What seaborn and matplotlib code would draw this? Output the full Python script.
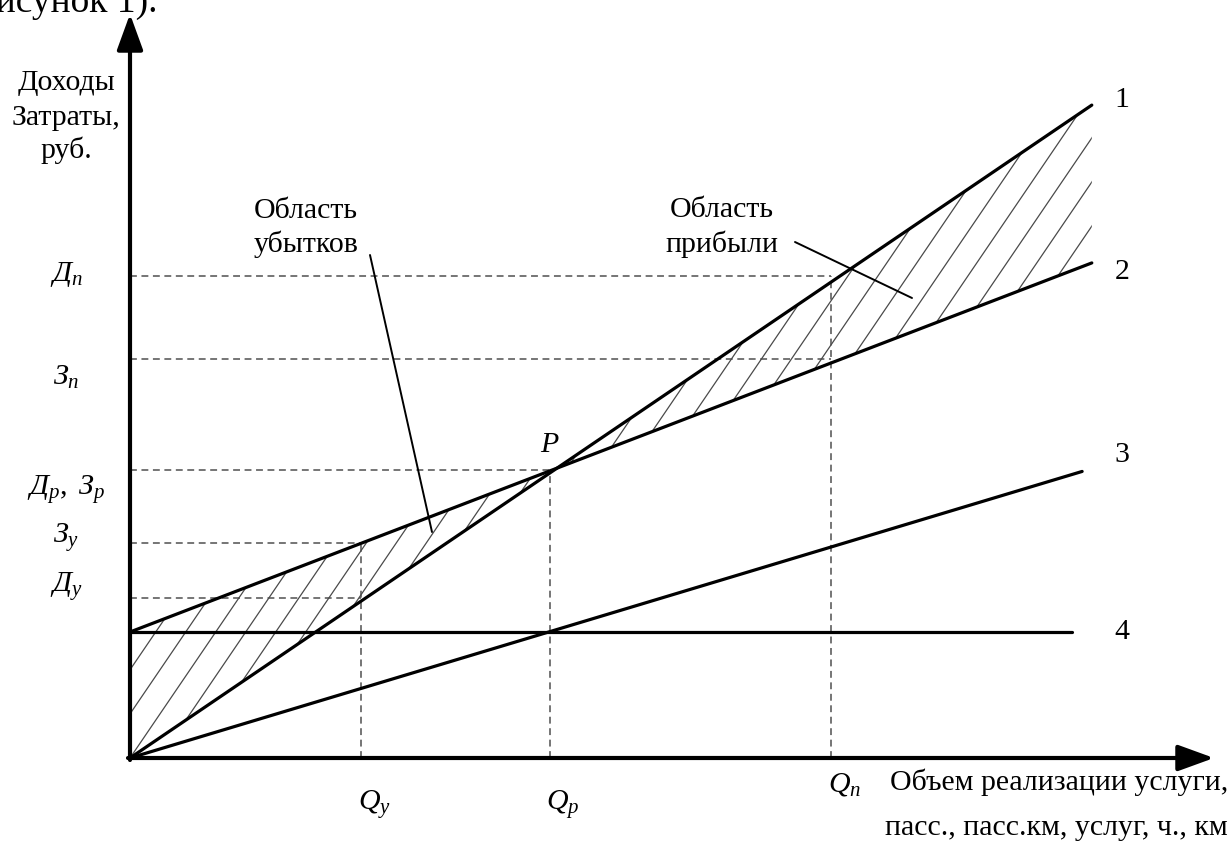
import matplotlib.pyplot as plt
import numpy as np
import pandas as pd
import seaborn as sns
from matplotlib.collections import LineCollection

# break-even chart, schematic units (x: volume, y: revenue / costs)
line_labels = ["1", "2", "3", "4"]  # revenue, total costs, variable costs, fixed costs
line_start_x = [0.0, 0.0, 0.0, 0.0]
line_start_y = [0.0, 4.375, 0.0, 4.375]
line_end_x = [22.9, 22.9, 22.67, 22.43]
line_end_y = [22.67, 17.19, 9.95, 4.375]

volume_labels = [r"$Q_y$", r"$Q_p$", r"$Q_n$"]
volume_values = [5.5, 10.0, 16.7]

level_labels = [r"$Д_n$", r"$З_n$", r"$Д_p,\ З_p$", r"$З_y$", r"$Д_y$"]
level_values = [16.74, 13.85, 10.0, 7.47, 5.56]
level_volumes = [16.7, 16.7, 10.0, 5.5, 5.5]

sns.set_theme(style="white")
plt.rcParams["font.family"] = ["Liberation Serif", "DejaVu Serif"]
plt.rcParams["mathtext.fontset"] = "custom"
plt.rcParams["mathtext.rm"] = "Liberation Serif"
plt.rcParams["mathtext.it"] = "Liberation Serif:italic"
plt.rcParams["mathtext.bf"] = "Liberation Serif:bold"
plt.rcParams["text.color"] = "black"

W, H = 1231, 848
X0, Y0 = 130, 758      # origin, pixels
SX, SY = 42.0, 28.8    # pixels per unit
FS = 21.5


def px(x, y):
    # pixel position -> data coords
    return (x - X0) / SX, (Y0 - y) / SY


fig = plt.figure(figsize=(W / 100, H / 100), dpi=100)
ax = fig.add_axes([0, 0, 1, 1])
ax.set_xlim(-X0 / SX, (W - X0) / SX)
ax.set_ylim(-(H - Y0) / SY, Y0 / SY)
ax.axis("off")

# main lines
lines = pd.DataFrame({
    "line": np.repeat(line_labels, 2),
    "x": np.column_stack([line_start_x, line_end_x]).ravel(),
    "y": np.column_stack([line_start_y, line_end_y]).ravel(),
})
sns.lineplot(data=lines, x="x", y="y", units="line", estimator=None, sort=False,
             color="black", lw=2.3, ax=ax, zorder=4)

# hatched loss / profit areas between revenue and total costs
xs = np.linspace(0, line_end_x[0], 200)
rev = np.interp(xs, [line_start_x[0], line_end_x[0]], [line_start_y[0], line_end_y[0]])
cost = np.interp(xs, [line_start_x[1], line_end_x[1]], [line_start_y[1], line_end_y[1]])
band = ax.fill_between(xs, rev, cost, facecolor="none", edgecolor="none")

slope = 1.47 * SX / SY
step = 30 / SX
segs = [[(c - 1, -slope), (c + 14, 14 * slope)] for c in np.arange(-30, 40) * step]
hatch = LineCollection(segs, colors="#4a4a4a", linewidths=0.9, zorder=2)
ax.add_collection(hatch)
hatch.set_clip_path(band.get_paths()[0], ax.transData)

# dashed guides
dash = dict(color="#505050", lw=1.1, dashes=(4.5, 3), zorder=1)
for lvl, vol in zip(level_values, level_volumes):
    ax.plot([0, vol], [lvl, lvl], **dash)
for vol in volume_values:
    top = max(l for l, v in zip(level_values, level_volumes) if v == vol)
    ax.plot([vol, vol], [0, top], **dash)

# axes with arrows
arrow = dict(arrowstyle="-|>,head_length=1.1,head_width=0.4", lw=3, color="black",
             shrinkA=0, shrinkB=0, mutation_scale=20)
ax.annotate("", xy=px(X0, 14), xytext=px(X0, Y0 + 2), arrowprops=arrow, zorder=5)
ax.annotate("", xy=px(1214, Y0), xytext=px(X0 - 2, Y0), arrowprops=arrow, zorder=5)

# y-axis title
for txt, base in zip(["Доходы", "Затраты,", "руб."], [90, 125, 158]):
    ax.text(*px(66, base), txt, ha="center", va="baseline", fontsize=FS)

# level labels
level_shift = [5, 26, 25, 0, -6]
for lab, lvl, sh in zip(level_labels, level_values, level_shift):
    x, _ = px(66, 0)
    ax.text(x, lvl - sh / SY, lab, ha="center", va="baseline", fontsize=FS)

# volume labels
q_base = [810, 810, 792]
for lab, vol, b in zip(volume_labels, volume_values, q_base):
    _, y = px(0, b)
    ax.text(vol + 13 / SX, y, lab, ha="center", va="baseline", fontsize=FS)

ax.text(*px(1228, 790), "Объем реализации услуги,", ha="right", va="baseline", fontsize=FS)
ax.text(*px(1228, 835), "пасс., пасс.км, услуг, ч., км", ha="right", va="baseline", fontsize=FS)

# line numbers
for lab, ypx in zip(line_labels, [100, 272, 455, 632]):
    ax.text(*px(1122, ypx), lab, ha="center", va="center", fontsize=FS)

# break-even point
ax.text(*px(550, 452), r"$P$", ha="center", va="baseline", fontsize=FS)

# area captions with leaders
for txt, (cx, b) in [("Область", (306, 218)), ("убытков", (306, 252)),
                     ("Область", (722, 217)), ("прибыли", (722, 252))]:
    ax.text(*px(cx, b), txt, ha="center", va="baseline", fontsize=FS)
for (x1, y1), (x2, y2) in [((370, 255), (432, 532)), ((795, 242), (912, 298))]:
    a, b = px(x1, y1)
    c, d = px(x2, y2)
    ax.plot([a, c], [b, d], color="black", lw=1.4, zorder=3)

# clipped caption from the page above
fig.text(157 / W, 1 - 12 / H, "рисунок 1).", ha="right", va="baseline", fontsize=27)

fig.savefig("out.png", dpi=100)
